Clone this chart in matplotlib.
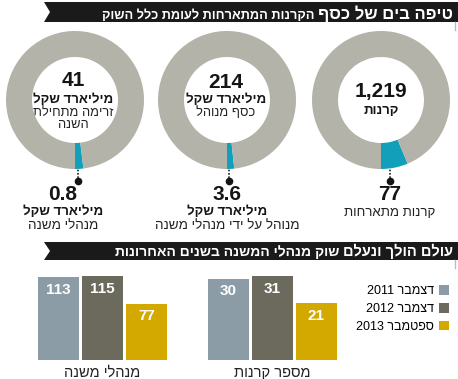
import math
import matplotlib
matplotlib.use("Agg")
import matplotlib.pyplot as plt
from matplotlib.patches import Polygon

plt.rcParams['font.family'] = ['Liberation Sans', 'DejaVu Sans']

# ---------------- data ----------------
donut_totals = [41, 214, 1219]
donut_parts = [0.8, 3.6, 77]
donut_total_labels = ["41", "214", "1,219"]
donut_part_labels = ["0.8", "3.6", "77"]
donut_center_bold = ["מיליארד שקל", "מיליארד שקל", "קרנות"]
donut_center_text = [["זרימה מתחילת", "השנה"], ["כסף מנוהל"], []]
donut_below_bold = ["מיליארד שקל", "מיליארד שקל", ""]
donut_below_text = ["מנהלי משנה", "מנוהל על ידי מנהלי משנה", "קרנות מתארחות"]

periods = ["דצמבר 2011", "דצמבר 2012", "ספטמבר 2013"]
managers = [113, 115, 77]
funds = [30, 31, 21]
group_names = ["מנהלי משנה", "מספר קרנות"]

GRAY = "#b4b3a9"
TEAL = "#119fb9"
BAR_COLORS = ["#8b9ca6", "#6b6a5d", "#d3a900"]
INK = "#151515"

W, H = 458, 379


def heb(s):
    """matplotlib has no bidi: flip word order and hebrew words"""
    out = []
    for w in reversed(s.split(" ")):
        if any('\u0590' <= c <= '\u05ff' for c in w):
            out.append(w[::-1])
        else:
            out.append(w)
    return " ".join(out)


def px_rect(x, y, w, h):
    return [x / W, 1 - (y + h) / H, w / W, h / H]


fig = plt.figure(figsize=(W / 100, H / 100), dpi=100)
bg = fig.add_axes([0, 0, 1, 1])
bg.set_xlim(0, W)
bg.set_ylim(H, 0)
bg.axis("off")


def banner(y0, y1, big, small, big_size, small_size, base):
    mid = (y0 + y1) / 2
    bg.add_patch(Polygon([(44, y0), (W, y0), (W, y1), (44, y1), (50, mid)],
                         closed=True, color="#1a1a1a", lw=0))
    bg.plot([455, 455], [y1, y1 + 8], color="#bbbbbb", lw=1)
    t = bg.text(453, base, heb(big), color="white", fontsize=big_size,
                fontweight="bold", ha="right", va="baseline")
    fig.canvas.draw()
    bb = t.get_window_extent()
    x_left = bg.transData.inverted().transform((bb.x0, 0))[0]
    bg.text(x_left - 4, base, heb(small), color="white", fontsize=small_size,
            fontweight="bold", ha="right", va="baseline")


banner(2, 22, "טיפה בים של כסף", "הקרנות המתארחות לעומת כלל השוק", 12, 9.2, 19)
banner(242, 260, "עולם הולך ונעלם", "שוק מנהלי המשנה בשנים האחרונות", 10.5, 10, 256)

# ---------------- donuts ----------------
centers_x = [75, 227, 381]
text_x = [73, 226, 381]
below_x = [63, 227, None]
cy, r = 100, 69
num_y = [80, 82.5, 92]
bold_y = [100, 100, 111]
for i in range(3):
    cx = centers_x[i]
    ax = fig.add_axes(px_rect(cx - r, cy - r, 2 * r, 2 * r))
    part, total = donut_parts[i], donut_totals[i]
    ax.pie([part, total - part], colors=[TEAL, GRAY], startangle=270,
           counterclock=True, radius=1,
           wedgeprops=dict(width=26 / r, linewidth=0))
    ax.set_xlim(-1, 1)
    ax.set_ylim(-1, 1)
    ax.axis("off")

    # leader from the slice down to the dot
    mid = math.radians(270 + 180 * part / total)
    lx = cx + 0.65 * r * math.cos(mid)
    bg.plot([lx, lx], [cy + r - 6, cy + r + 12], color="#222222", lw=1.2,
            ls=(0, (1, 1)))
    bg.plot([lx], [cy + r + 12], "o", color=INK, ms=4.5)

    # centre text
    tx = text_x[i]
    bg.text(tx, num_y[i], donut_total_labels[i], fontsize=15,
            fontweight="bold", ha="center", va="center", color=INK)
    bg.text(tx, bold_y[i], heb(donut_center_bold[i]), fontsize=9.5,
            fontweight="bold", ha="center", va="center", color=INK)
    for k, ln in enumerate(donut_center_text[i]):
        bg.text(tx, 113 + 12.5 * k, heb(ln), fontsize=9.3, ha="center",
                va="center", color="#222222")

    # text under the ring
    bx = below_x[i] if below_x[i] is not None else lx
    bg.text(bx, 194, donut_part_labels[i], fontsize=15, fontweight="bold",
            ha="center", va="center", color=INK)
    if donut_below_bold[i]:
        bg.text(bx, 212, heb(donut_below_bold[i]), fontsize=9.5,
                fontweight="bold", ha="center", va="center", color=INK)
        bg.text(bx, 226, heb(donut_below_text[i]), fontsize=9.7,
                ha="center", va="center", color="#222222")
    else:
        bg.text(bx, 213, heb(donut_below_text[i]), fontsize=9.5,
                ha="center", va="center", color="#222222")

# ---------------- bars ----------------
bar_boxes = [36.5, 206.5]
bar_series = [managers, funds]
handles = None
for j in range(2):
    vals = bar_series[j]
    ax = fig.add_axes(px_rect(bar_boxes[j], 270, 132, 90))
    bars = ax.bar(range(3), vals, width=41 / 44, color=BAR_COLORS, linewidth=0)
    if handles is None:
        handles = bars
    ax.set_xlim(-0.5, 2.5)
    ax.set_ylim(0, max(vals) * 90 / 84)
    for k, v in enumerate(vals):
        ax.annotate(str(v), (k, v), xytext=(0, -4), textcoords="offset points",
                    ha="center", va="top", color="white", fontsize=11,
                    fontweight="bold")
    for s in ax.spines.values():
        s.set_visible(False)
    ax.set_yticks([])
    ax.set_xticks([1])
    ax.set_xticklabels([heb(group_names[j])], fontsize=10.5, color="#222222")
    ax.tick_params(axis="x", length=0, pad=4)
    ax.patch.set_alpha(0)

fig.legend(list(handles), [heb(p) for p in periods], loc="center right",
           bbox_to_anchor=(449 / W, 1 - 309 / H), frameon=False,
           markerfirst=False, fontsize=9, handlelength=0.8, handleheight=0.8,
           handletextpad=0.4, labelspacing=0.45, borderpad=0,
           borderaxespad=0)

fig.savefig("out.png", dpi=100)
